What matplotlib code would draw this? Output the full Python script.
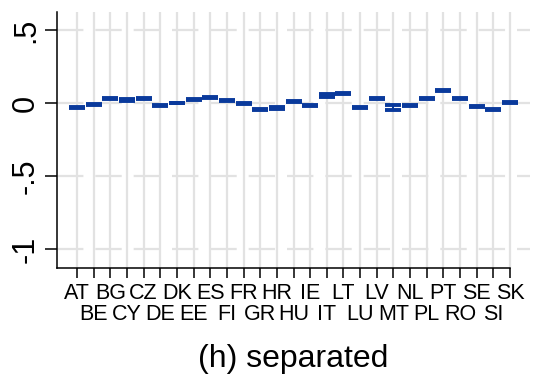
import matplotlib
matplotlib.use("Agg")
from matplotlib import pyplot as plt
import numpy as np

plt.rcParams['font.family'] = ['Liberation Sans', 'DejaVu Sans']
plt.rcParams['lines.scale_dashes'] = False

countries = ["AT", "BE", "BG", "CY", "CZ", "DE", "DK", "EE", "ES", "FI", "FR", "GR", "HR", "HU",
             "IE", "IT", "LT", "LU", "LV", "MT", "NL", "PL", "PT", "RO", "SE", "SI", "SK"]
estimate = [-0.030, -0.010, 0.030, 0.020, 0.030, -0.020, 0.000, 0.025, 0.035, 0.015, -0.005, -0.045,
            -0.035, 0.012, -0.015, 0.050, 0.065, -0.030, 0.030, -0.030, -0.020, 0.030, 0.087, 0.030,
            -0.025, -0.045, 0.005]
ci_half = [0.004, 0.004, 0.004, 0.004, 0.004, 0.003, 0.003, 0.004, 0.004, 0.004, 0.003, 0.004,
           0.005, 0.004, 0.004, 0.012, 0.004, 0.004, 0.004, 0.018, 0.003, 0.004, 0.004, 0.004,
           0.003, 0.004, 0.005]
yticks = [-1, -0.5, 0, 0.5]
ytick_labels = ["-1", "-.5", "0", ".5"]

blue = "#0a3a9c"
grid = "#e2e2e2"

fig = plt.figure(figsize=(5.6, 3.77), dpi=100)
ax = fig.add_axes([57/560, 1-268/377, (530-57)/560, (268-12)/377])

x = np.arange(1, len(countries) + 1)
ax.set_xlim(1 - 1.2, len(countries) + 1.2)
ax.set_ylim(-1.13, 0.623)

for xi in x:
    ax.axvline(xi, color=grid, lw=1.6, zorder=0)
for yv in yticks:
    ax.axhline(yv, color=grid, lw=1.6, zorder=0, linestyle=(0, (19, 8.6)))

ax.errorbar(x, estimate, yerr=ci_half, fmt='none', ecolor=blue, elinewidth=1.4,
            capsize=5.5, capthick=2.8, zorder=3)

for s in ["top", "right"]:
    ax.spines[s].set_visible(False)
ax.spines["left"].set_linewidth(1.1)
ax.spines["bottom"].set_linewidth(1.1)
ax.spines["bottom"].set_bounds(1 - 1.2, len(countries))

ax.set_yticks(yticks)
ax.set_yticklabels(ytick_labels, fontsize=22, rotation=90, va="center")

# labels alternate between two rows
ax.set_xticks(x[::2])
ax.set_xticklabels(countries[::2], fontsize=15.5)
ax.set_xticks(x[1::2], minor=True)
ax.set_xticklabels(countries[1::2], minor=True, fontsize=15.5)
ax.tick_params(axis="y", length=8.5, width=1.1, pad=3, colors="black")
ax.tick_params(axis="x", which="major", length=7.5, width=1.1, pad=3.5)
ax.tick_params(axis="x", which="minor", length=7.5, width=1.1, pad=18.5)

fig.text((57 + 530) / 2 / 560, 1 - 359 / 377, "(h) separated", fontsize=23, ha="center", va="center")

fig.savefig("out.png", dpi=100)
